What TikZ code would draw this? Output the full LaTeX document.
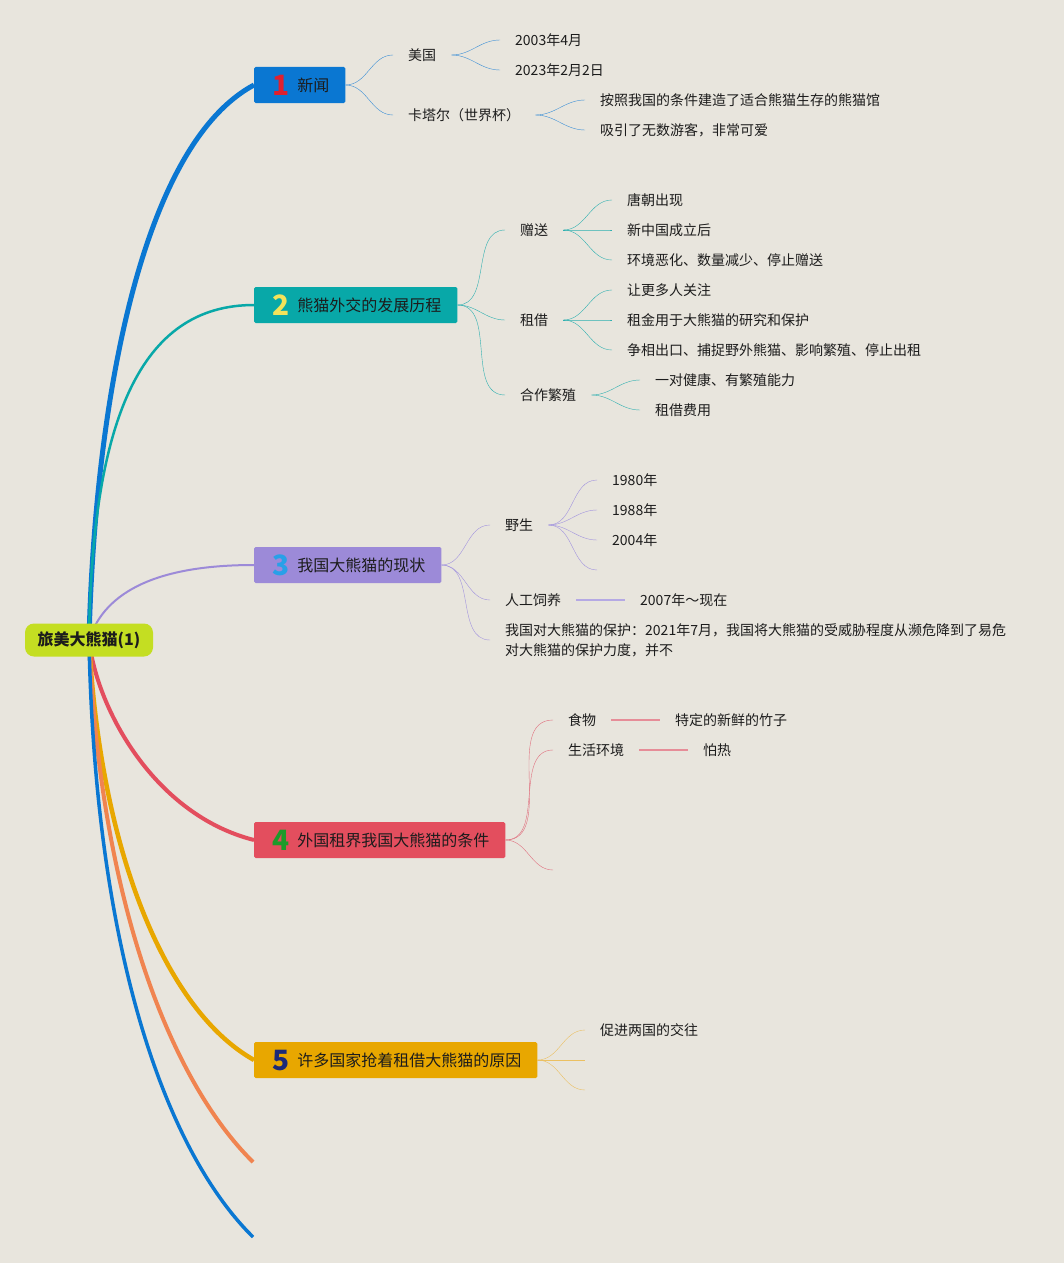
\documentclass[tikz,border=0pt]{standalone}
\usepackage{fontspec}
\setmainfont{Noto Sans CJK SC}
\definecolor{paper}{HTML}{E8E5DD}
\definecolor{ink}{HTML}{1C1C1C}
\definecolor{rootgreen}{HTML}{C4DE22}
\definecolor{c1}{HTML}{0A77D2}
\definecolor{c2}{HTML}{08A8A8}
\definecolor{c3}{HTML}{9C8AD8}
\definecolor{c4}{HTML}{E34E5E}
\definecolor{c5}{HTML}{E8A700}
\definecolor{c6}{HTML}{F08450}
\definecolor{k1}{HTML}{3A8ED6}
\definecolor{k2}{HTML}{2EB0B0}
\definecolor{k3}{HTML}{A294DE}
\definecolor{k4}{HTML}{E0707E}
\definecolor{k5}{HTML}{EBC062}
\definecolor{n1}{HTML}{E0202E}
\definecolor{n2}{HTML}{F3E35A}
\definecolor{n3}{HTML}{28A0E8}
\definecolor{n4}{HTML}{1E9A2A}
\definecolor{n5}{HTML}{1C2A78}
\pgfdeclarelayer{bg}
\pgfdeclarelayer{edges}
\pgfsetlayers{bg,edges,main}
\tikzset{
  root/.style={fill=rootgreen, rounded corners=9pt, minimum width=128pt, minimum height=33pt, font=\fontsize{16}{16}\selectfont\bfseries, text=ink},
  topic/.style={fill=#1, anchor=west, minimum height=36pt, inner xsep=16pt, text height=14pt, text depth=2pt, rounded corners=1.5pt, font=\fontsize{16}{16}\selectfont, text=ink},
  leaf/.style={anchor=west, inner xsep=15pt, inner ysep=2pt, font=\fontsize{14}{20}\selectfont, text=ink},
  kid/.style={out=0, in=180, line width=1pt},
}
\newcommand{\badge}[2]{\hspace{2pt}\raisebox{-4pt}{\smash{\fontsize{28}{28}\selectfont\bfseries\color{#1}#2}}\hspace{8pt}}
\begin{document}
\begin{tikzpicture}[x=1pt,y=-1pt]
\begin{pgfonlayer}{bg}
\fill[paper] (0,0) rectangle (1064,1263);
\end{pgfonlayer}
\useasboundingbox (0,0) rectangle (1064,1263);

\node[root] (root) at (89,640) {旅美大熊猫(1)};

\node[topic=c1] (t1) at (254,85) {\badge{n1}{1}新闻};
\node[topic=c2] (t2) at (254,305) {\badge{n2}{2}熊猫外交的发展历程};
\node[topic=c3] (t3) at (254,565) {\badge{n3}{3}我国大熊猫的现状};
\node[topic=c4] (t4) at (254,840) {\badge{n4}{4}外国租界我国大熊猫的条件};
\node[topic=c5] (t5) at (254,1060) {\badge{n5}{5}许多国家抢着租借大熊猫的原因};
\coordinate (t6) at (253,1162);
\coordinate (t7) at (253,1237);

% 新闻
\node[leaf] (meiguo) at (393,55) {美国};
\node[leaf] (kataer) at (393,115) {卡塔尔（世界杯）};
\node[leaf] (y2003) at (500,40) {2003年4月};
\node[leaf] (y2023) at (500,70) {2023年2月2日};
\node[leaf] (guan) at (585,100) {按照我国的条件建造了适合熊猫生存的熊猫馆};
\node[leaf] (youke) at (585,130) {吸引了无数游客，非常可爱};

% 发展历程
\node[leaf] (zengsong) at (505,230) {赠送};
\node[leaf] (zujie) at (505,320) {租借};
\node[leaf] (hezuo) at (505,395) {合作繁殖};
\node[leaf] (tang) at (612,200) {唐朝出现};
\node[leaf] (xinzg) at (612,230) {新中国成立后};
\node[leaf] (huanjing) at (612,260) {环境恶化、数量减少、停止赠送};
\node[leaf] (guanzhu) at (612,290) {让更多人关注};
\node[leaf] (zujin) at (612,320) {租金用于大熊猫的研究和保护};
\node[leaf] (zhengxiang) at (612,350) {争相出口、捕捉野外熊猫、影响繁殖、停止出租};
\node[leaf] (jiankang) at (640,380) {一对健康、有繁殖能力};
\node[leaf] (feiyong) at (640,410) {租借费用};

% 现状
\node[leaf] (yesheng) at (490,525) {野生};
\node[leaf] (rengong) at (490,600) {人工饲养};
\node[leaf, align=left] (baohu) at (490,640) {我国对大熊猫的保护：2021年7月，我国将大熊猫的受威胁程度从濒危降到了易危\\对大熊猫的保护力度，并不};
\node[leaf] (y1980) at (597,480) {1980年};
\node[leaf] (y1988) at (597,510) {1988年};
\node[leaf] (y2004) at (597,540) {2004年};
\coordinate (ws4) at (597,570);
\node[leaf] (xianzai) at (625,600) {2007年～现在};

% 条件
\node[leaf] (shiwu) at (553,720) {食物};
\node[leaf] (shenghuo) at (553,750) {生活环境};
\coordinate (tj3) at (553,870);
\node[leaf] (zhuzi) at (660,720) {特定的新鲜的竹子};
\node[leaf] (parre) at (688,750) {怕热};

% 原因
\node[leaf] (cujin) at (585,1030) {促进两国的交往};
\coordinate (yy2) at (585,1060);
\coordinate (yy3) at (585,1090);

\begin{pgfonlayer}{edges}
\draw[c1, line width=5pt] (root.center) .. controls (95,400) and (142,145) .. (t1.west);
\draw[c2, line width=2.5pt] (root.center) .. controls (92,420) and (140,305) .. (t2.west);
\draw[c3, line width=2pt] (root.center) .. controls (105,590) and (160,565) .. (t3.west);
\draw[c4, line width=4pt] (root.center) .. controls (97,710) and (155,815) .. (t4.west);
\draw[c5, line width=4.5pt] (root.center) .. controls (100,850) and (165,1010) .. (t5.west);
\draw[c6, line width=4pt] (root.center) .. controls (100,900) and (170,1080) .. (t6);
\draw[c1, line width=3.5pt] (root.center) .. controls (95,950) and (165,1150) .. (t7);
\end{pgfonlayer}

\foreach \a/\b in {t1/meiguo, t1/kataer, meiguo/y2003, meiguo/y2023, kataer/guan, kataer/youke}
  \draw[k1] (\a.east) to[kid] (\b.west);
\foreach \a/\b in {t2/zengsong, t2/zujie, t2/hezuo, zengsong/tang, zengsong/xinzg, zengsong/huanjing,
  zujie/guanzhu, zujie/zujin, zujie/zhengxiang, hezuo/jiankang, hezuo/feiyong}
  \draw[k2] (\a.east) to[kid] (\b.west);
\foreach \a/\b in {t3/yesheng, t3/rengong, t3/baohu, yesheng/y1980, yesheng/y1988, yesheng/y2004}
  \draw[k3] (\a.east) to[kid] (\b.west);
\draw[k3] (yesheng.east) to[kid] (ws4);
\draw[k3!80, line width=2pt] (rengong.east) -- (xianzai.west);
\foreach \a/\b in {t4/shiwu, t4/shenghuo}
  \draw[k4] (\a.east) to[kid] (\b.west);
\draw[k4] (t4.east) to[kid] (tj3);
\draw[k4!80, line width=1.5pt] (shiwu.east) -- (zhuzi.west);
\draw[k4!80, line width=1.5pt] (shenghuo.east) -- (parre.west);
\draw[k5] (t5.east) to[kid] (cujin.west);
\draw[k5] (t5.east) to[kid] (yy2);
\draw[k5] (t5.east) to[kid] (yy3);
\end{tikzpicture}
\end{document}
